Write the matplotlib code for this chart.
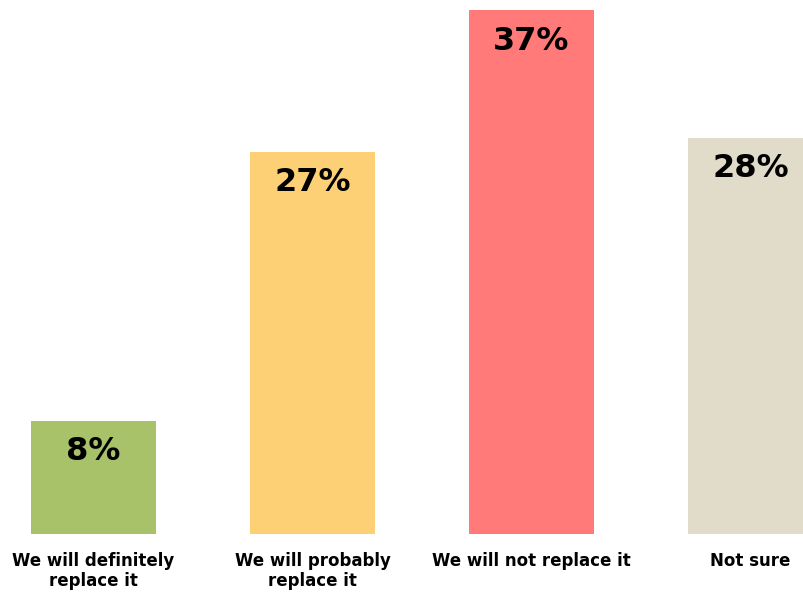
import matplotlib
matplotlib.use("Agg")
import matplotlib.pyplot as plt

# Survey answers and shares (%)
categories = ["We will definitely\nreplace it", "We will probably\nreplace it",
              "We will not replace it", "Not sure"]
values = [8, 27, 37, 28]
value_labels = ["8%", "27%", "37%", "28%"]
colors = ["#A8C26A", "#FDD076", "#FF7A78", "#E1DBCA"]

fig = plt.figure(figsize=(8.04, 5.92), dpi=100)
ax = fig.add_axes([0, 0, 1, 1])

x = list(range(len(categories)))
ax.bar(x, values, width=0.57, color=colors, zorder=2)

# axis ranges chosen so the last bar runs off the right edge like the source
ax.set_xlim(-0.427, 3.244)
ax.set_ylim(-4.1, 37.73)

for xi, v, lab in zip(x, values, value_labels):
    ax.text(xi, v - 1.1, lab, ha="center", va="top", fontsize=23,
            fontweight="bold", color="black")

for xi, cat in zip(x, categories):
    ax.text(xi, -1.3, cat, ha="center", va="top", fontsize=12,
            fontweight="bold", color="black", linespacing=1.15)

ax.set_axis_off()

fig.savefig("out.png", dpi=100, facecolor="white")
